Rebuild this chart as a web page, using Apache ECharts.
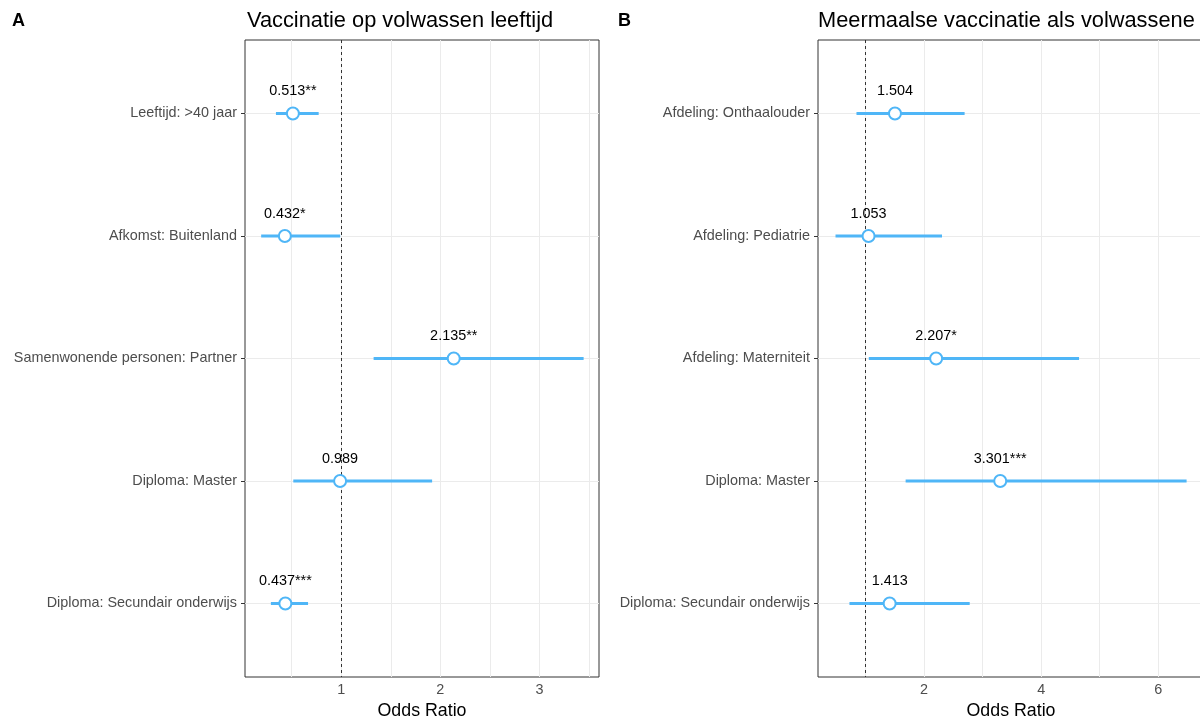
<!DOCTYPE html>
<html><head><meta charset="utf-8">
<script src="https://cdn.jsdelivr.net/npm/echarts@6/dist/echarts.min.js"></script>
<style>html,body{margin:0;padding:0;background:#fff}#c{width:1200px;height:719px}</style>
</head><body><div id="c"></div>
<script>
// Panel A
const catsA = ['Leeftijd: >40 jaar','Afkomst: Buitenland','Samenwonende personen: Partner','Diploma: Master','Diploma: Secundair onderwijs'];
const orA = [0.513, 0.432, 2.135, 0.989, 0.437];
const loA = [0.342, 0.193, 1.327, 0.517, 0.291];
const hiA = [0.773, 0.990, 3.445, 1.917, 0.666];
const labA = ['0.513**','0.432*','2.135**','0.989','0.437***'];
const ticksA = [1, 2, 3];
const gridXA = [0.5, 1, 1.5, 2, 2.5, 3, 3.5];
// Panel B
const catsB = ['Afdeling: Onthaalouder','Afdeling: Pediatrie','Afdeling: Materniteit','Diploma: Master','Diploma: Secundair onderwijs'];
const orB = [1.504, 1.053, 2.207, 3.301, 1.413];
const loB = [0.847, 0.489, 1.057, 1.686, 0.727];
const hiB = [2.693, 2.307, 4.647, 6.483, 2.780];
const labB = ['1.504','1.053','2.207*','3.301***','1.413'];
const ticksB = [2, 4, 6];
const gridXB = [1, 2, 3, 4, 5, 6];
const rowIdx = [0, 1, 2, 3, 4];

const BLUE = '#4FB6F7';
const FONT = '"Liberation Sans", Arial, sans-serif';

function panelSeries(k, cats, or, lo, hi, lab, gridX) {
  return [
    { type: 'scatter', xAxisIndex: k, yAxisIndex: k, data: [], silent: true, z: 1,
      markLine: { z: 1, silent: true, symbol: 'none', animation: false, label: { show: false },
        lineStyle: { color: '#ebebeb', width: 1, type: 'solid' },
        data: gridX.map(v => ({ xAxis: v })).concat(rowIdx.map(v => ({ yAxis: v }))) } },
    { type: 'scatter', xAxisIndex: k, yAxisIndex: k, data: [], silent: true, z: 2,
      markLine: { z: 2, silent: true, symbol: 'none', animation: false, label: { show: false },
        lineStyle: { color: '#333', width: 1, type: [3, 3] },
        data: [{ xAxis: 1 }] } },
    { type: 'custom', xAxisIndex: k, yAxisIndex: k, z: 3, silent: true,
      data: rowIdx.map(i => [lo[i], hi[i], i]),
      renderItem: function (params, api) {
        const a = api.coord([api.value(0), api.value(2)]);
        const b = api.coord([api.value(1), api.value(2)]);
        return { type: 'line', shape: { x1: a[0], y1: a[1], x2: b[0], y2: b[1] },
          style: { stroke: BLUE, lineWidth: 3 } };
      } },
    { type: 'scatter', xAxisIndex: k, yAxisIndex: k, z: 4, silent: true,
      symbol: 'circle', symbolSize: 12,
      itemStyle: { color: '#fff', borderColor: BLUE, borderWidth: 2, opacity: 1 },
      label: { show: true, position: 'top', distance: 8, color: '#000', fontSize: 14.4, fontFamily: FONT,
        formatter: p => lab[p.dataIndex] },
      data: rowIdx.map(i => [or[i], i]) }
  ];
}

function xAx(k, min, max, ticks) {
  return { type: 'value', gridIndex: k, min: min, max: max,
    name: 'Odds Ratio', nameLocation: 'middle', nameGap: 24,
    nameTextStyle: { color: '#000', fontSize: 17.8, fontFamily: FONT },
    axisLine: { show: false },
    axisTick: { show: true, length: 4, lineStyle: { color: '#333' }, customValues: ticks },
    axisLabel: { color: '#4d4d4d', fontSize: 14.4, fontFamily: FONT, margin: 6, customValues: ticks },
    splitLine: { show: false } };
}
function yAx(k, cats) {
  return { type: 'value', gridIndex: k, min: -0.6, max: 4.6, inverse: true,
    axisLine: { show: false },
    axisTick: { show: true, length: 4, lineStyle: { color: '#333' }, customValues: rowIdx },
    axisLabel: { color: '#4d4d4d', fontSize: 14.4, fontFamily: FONT, margin: 8, customValues: rowIdx,
      formatter: v => cats[Math.round(v)] },
    splitLine: { show: false } };
}

const chart = echarts.init(document.getElementById('c'), null, { renderer: 'canvas' });
chart.setOption({
  animation: false,
  backgroundColor: '#fff',
  title: [
    { text: 'A', left: 12, top: 12, padding: 0, textStyle: { fontSize: 18, fontWeight: 'bold', color: '#000', fontFamily: FONT } },
    { text: 'Vaccinatie op volwassen leeftijd', left: 247, top: 10, padding: 0, textStyle: { fontSize: 21.8, fontWeight: 'normal', color: '#000', fontFamily: FONT } },
    { text: 'B', left: 618, top: 12, padding: 0, textStyle: { fontSize: 18, fontWeight: 'bold', color: '#000', fontFamily: FONT } },
    { text: 'Meermaalse vaccinatie als volwassene', left: 818, top: 10, padding: 0, textStyle: { fontSize: 21.8, fontWeight: 'normal', color: '#000', fontFamily: FONT } }
  ],
  grid: [
    { left: 245, top: 40, width: 354, height: 637, outerBoundsMode: 'none', containLabel: false, show: true, borderColor: '#333', borderWidth: 1, backgroundColor: 'transparent' },
    { left: 818, top: 40, width: 386, height: 637, outerBoundsMode: 'none', containLabel: false, show: true, borderColor: '#333', borderWidth: 1, backgroundColor: 'transparent' }
  ],
  xAxis: [ xAx(0, 0.03, 3.60, ticksA), xAx(1, 0.19, 6.78, ticksB) ],
  yAxis: [ yAx(0, catsA), yAx(1, catsB) ],
  series: panelSeries(0, catsA, orA, loA, hiA, labA, gridXA).concat(panelSeries(1, catsB, orB, loB, hiB, labB, gridXB))
});
</script></body></html>
